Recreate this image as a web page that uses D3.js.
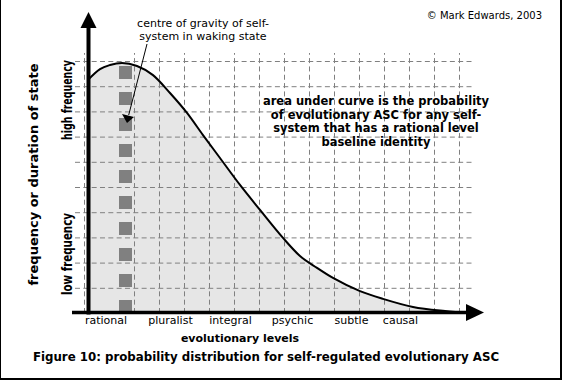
<!DOCTYPE html>
<html><head><meta charset="utf-8">
<script src="https://d3js.org/d3.v7.min.js"></script>
<style>
  body { margin: 0; background: #fff; }
  svg text { font-family: "DejaVu Sans", Verdana, sans-serif; fill: #000; }
  .grid line { stroke: #808080; stroke-dasharray: 5,3.33; }
  .grid path { display: none; }
</style></head>
<body>
<svg id="chart" width="564" height="382"></svg>

<script>
// evolutionary levels on the x axis (x in grid units)
var levels = ["rational", "pluralist", "integral", "psychic", "subtle", "causal"];
var levelPos = [0.86, 3.44, 5.84, 8.32, 10.68, 12.64];

// probability curve (x in grid units, y in grid units)
var curveX = [0.16, 0.64, 1.04, 1.52, 2.12, 2.76, 3.44, 4.12, 4.76, 5.44, 6.24, 7.04, 7.96, 8.64, 9.32, 9.96, 11.04, 11.96, 13.16, 14.44, 15.44];
var curveY = [9.25, 9.68, 9.84, 9.92, 9.80, 9.44, 8.73, 7.94, 7.06, 6.15, 5.08, 4.09, 2.98, 2.26, 1.79, 1.39, 0.87, 0.56, 0.24, 0.08, 0.0];

// grid lines
var gridX = [0, 2, 3, 4, 5, 6, 7, 8, 9, 10, 11, 12, 13, 14, 15];
var gridY = [1, 2, 3, 4, 5, 6, 7, 8, 9, 10];

// centre of gravity column
var gravityX = 1.66;
var gravityTop = 9.8;

var annotation = ["centre of gravity of self-", "system in waking state"];
var note = ["area under curve is the probability", "of evolutionary ASC for any self-", "system that has a rational level", "baseline identity"];

var x = d3.scaleLinear().domain([0, 16]).range([84, 484]);
var y = d3.scaleLinear().domain([0, 10]).range([313, 61]);

var svg = d3.select("#chart");

// fill under curve
var pts = curveX.map(function(d, i) { return [d, curveY[i]]; });
var area = d3.area()
    .x(function(d) { return x(d[0]); })
    .y0(y(0))
    .y1(function(d) { return y(d[1]); })
    .curve(d3.curveMonotoneX);
svg.append("path").datum(pts).attr("d", area).attr("fill", "#e6e6e6");

// grid
svg.append("g").attr("class", "grid")
    .attr("transform", "translate(0,313)")
    .call(d3.axisBottom(x).tickValues(gridX).tickSize(-260).tickFormat(""));
svg.append("g").attr("class", "grid")
    .attr("transform", "translate(75,0)")
    .call(d3.axisLeft(y).tickValues(gridY).tickSize(-397).tickFormat(""));

// centre of gravity squares
svg.append("line")
    .attr("x1", x(gravityX)).attr("x2", x(gravityX))
    .attr("y1", y(gravityTop)).attr("y2", y(0))
    .attr("stroke", "#808080").attr("stroke-width", 13)
    .attr("stroke-dasharray", "13,13");

// curve
var line = d3.line()
    .x(function(d) { return x(d[0]); })
    .y(function(d) { return y(d[1]); })
    .curve(d3.curveMonotoneX);
svg.append("path").datum(pts).attr("d", line)
    .attr("fill", "none").attr("stroke", "#000").attr("stroke-width", 2);

// axes
var ax = x(0.18);
svg.append("line").attr("x1", ax).attr("x2", ax).attr("y1", 26).attr("y2", 314.5)
    .attr("stroke", "#000").attr("stroke-width", 4);
svg.append("path").attr("d", "M" + (ax - 8) + ",28L" + (ax + 8) + ",28L" + ax + ",12Z").attr("fill", "#000");
svg.append("line").attr("x1", 72).attr("x2", 468).attr("y1", 312.5).attr("y2", 312.5)
    .attr("stroke", "#000").attr("stroke-width", 3.5);
svg.append("path").attr("d", "M466,304L466,321L484,312.5Z").attr("fill", "#000");

var xAxis = svg.append("g")
    .attr("transform", "translate(0,313)")
    .call(d3.axisBottom(x).tickValues(levelPos)
        .tickFormat(function(d, i) { return levels[i]; })
        .tickSize(0).tickPadding(3));
xAxis.select(".domain").remove();
xAxis.attr("font-family", null).attr("font-size", 11);

// annotation arrow
svg.selectAll(".ann").data(annotation).enter().append("text")
    .attr("x", 203).attr("y", function(d, i) { return 27 + i * 12.5; })
    .attr("text-anchor", "middle").attr("font-size", 11).text(function(d) { return d; });
svg.append("line").attr("x1", 147).attr("y1", 44).attr("x2", 128.7).attr("y2", 115)
    .attr("stroke", "#000").attr("stroke-width", 1);
svg.append("path").attr("d", "M122,114L134,117L127,123Z").attr("fill", "#000");

// note
svg.selectAll(".note").data(note).enter().append("text")
    .attr("x", 376).attr("y", function(d, i) { return 105 + i * 13.7; })
    .attr("text-anchor", "middle").attr("font-size", 11.5).attr("font-weight", "bold")
    .text(function(d) { return d; });

// copyright
svg.append("text").attr("x", 542).attr("y", 19).attr("text-anchor", "end")
    .attr("font-size", 10).text("\u00a9 Mark Edwards, 2003");

// axis titles
svg.append("text").attr("transform", "translate(37.5,174.5) rotate(-90)")
    .attr("text-anchor", "middle").attr("font-size", 13).attr("font-weight", "bold")
    .text("frequency or duration of state");
svg.append("text").attr("transform", "translate(72,100) rotate(-90)")
    .attr("text-anchor", "middle").attr("font-weight", "bold")
    .style("font-family", "'Liberation Sans Narrow', 'DejaVu Sans Condensed', sans-serif")
    .attr("font-size", 13.5).attr("textLength", 80).attr("lengthAdjust", "spacingAndGlyphs")
    .text("high frequency");
svg.append("text").attr("transform", "translate(72,254) rotate(-90)")
    .attr("text-anchor", "middle").attr("font-weight", "bold")
    .style("font-family", "'Liberation Sans Narrow', 'DejaVu Sans Condensed', sans-serif")
    .attr("font-size", 13.5).attr("textLength", 82).attr("lengthAdjust", "spacingAndGlyphs")
    .text("low frequency");
svg.append("text").attr("x", 240).attr("y", 342).attr("text-anchor", "middle")
    .attr("font-size", 11).attr("font-weight", "bold").text("evolutionary levels");
svg.append("text").attr("x", 266).attr("y", 361).attr("text-anchor", "middle")
    .attr("font-size", 11.8).attr("font-weight", "bold")
    .text("Figure 10:  probability distribution for self-regulated evolutionary ASC");

// frame
svg.append("path").attr("d", "M0.5,0V380").attr("stroke", "#000").attr("stroke-width", 1);
svg.append("path").attr("d", "M561,0V379H0").attr("fill", "none").attr("stroke", "#000").attr("stroke-width", 2);
</script>
</body></html>
